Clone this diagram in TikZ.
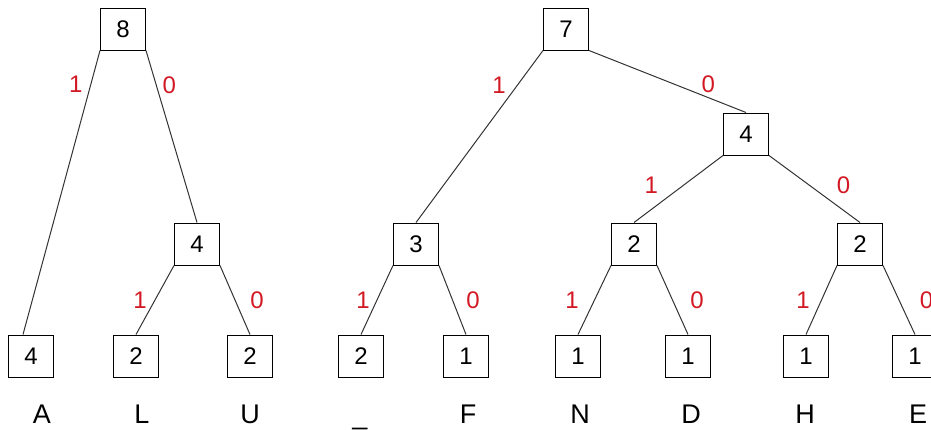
\documentclass[tikz,border=0pt]{standalone}
\usepackage{fontspec}
\setmainfont{Liberation Sans}
\usetikzlibrary{positioning}
\definecolor{bitRed}{RGB}{210,25,35}
\tikzset{
    cnt/.style={rectangle,draw=black,line width=1pt,minimum width=45pt,minimum height=42pt,
        inner sep=0pt,font=\fontsize{24}{28}\selectfont},
    sym/.style={anchor=base,inner sep=0pt,font=\fontsize{27}{32}\selectfont},
    link/.style={draw=black!80,line width=1pt},
    bit/.style={text=bitRed,inner sep=1pt,font=\fontsize{24}{28}\selectfont}
}
\begin{document}
\begin{tikzpicture}[x=1pt,y=-1pt]
    \useasboundingbox (0,0) rectangle (931,429);

    % left tree
    \node[cnt] (r8)  at (123, 29) {8};
    \node[cnt] (m4)  at (197,244) {4};
    \node[cnt] (lA)  at ( 31,356) {4};
    \node[cnt] (lL)  at (136,356) {2};
    \node[cnt] (lU)  at (250,356) {2};

    % right tree
    \node[cnt] (r7)  at (566, 29) {7};
    \node[cnt] (m3)  at (416,244) {3};
    \node[cnt] (s4)  at (746,134) {4};
    \node[cnt] (m2a) at (634,244) {2};
    \node[cnt] (m2b) at (860,244) {2};
    \node[cnt] (lSp) at (361,356) {2};
    \node[cnt] (lF)  at (466,356) {1};
    \node[cnt] (lN)  at (578,356) {1};
    \node[cnt] (lD)  at (688,356) {1};
    \node[cnt] (lH)  at (806,356) {1};
    \node[cnt] (lE)  at (915,356) {1};

    % symbols under the leaves
    \node[sym] (cA)  at ( 42,423) {A};
    \node[sym] (cL)  at (142,423) {L};
    \node[sym] (cU)  at (250,423) {U};
    \node[sym] (cSp) at (360,424) {\_};
    \node[sym] (cF)  at (468,423) {F};
    \node[sym] (cN)  at (580,423) {N};
    \node[sym] (cD)  at (691,423) {D};
    \node[sym] (cH)  at (805,423) {H};
    \node[sym] (cE)  at (918,423) {E};

    \draw[link] (r8.south west) -- node[bit,pos=0.12,left=6.7pt]{1} ([xshift=-8pt]lA.north);
    \draw[link] (r8.south east) -- node[bit,pos=0.2,right=4.8pt]{0} (m4.north);
    \draw[link] (m4.south west) -- node[bit,pos=0.5,left=6.8pt]{1} (lL.north);
    \draw[link] (m4.south east) -- node[bit,pos=0.5,right=13.8pt]{0} (lU.north);

    \draw[link] (r7.south west) -- node[bit,pos=0.2,left=10.4pt]{1} (m3.north);
    \draw[link] (r7.south east) -- node[bit,pos=0.76,above=3.2pt]{0} (s4.north);
    \draw[link] (s4.south west) -- node[bit,pos=0.45,left=23.4pt]{1} (m2a.north);
    \draw[link] (s4.south east) -- node[bit,pos=0.45,right=25.5pt]{0} (m2b.north);
    \draw[link] (m3.south west) -- node[bit,pos=0.5,left=5.8pt]{1} (lSp.north);
    \draw[link] (m3.south east) -- node[bit,pos=0.5,right=12.3pt]{0} (lF.north);
    \draw[link] (m2a.south west) -- node[bit,pos=0.5,left=14.3pt]{1} (lN.north);
    \draw[link] (m2a.south east) -- node[bit,pos=0.5,right=16.3pt]{0} (lD.north);
    \draw[link] (m2b.south west) -- node[bit,pos=0.5,left=10.3pt]{1} (lH.north);
    \draw[link] (m2b.south east) -- node[bit,pos=0.5,right=19.3pt]{0} (lE.north);
\end{tikzpicture}
\end{document}
